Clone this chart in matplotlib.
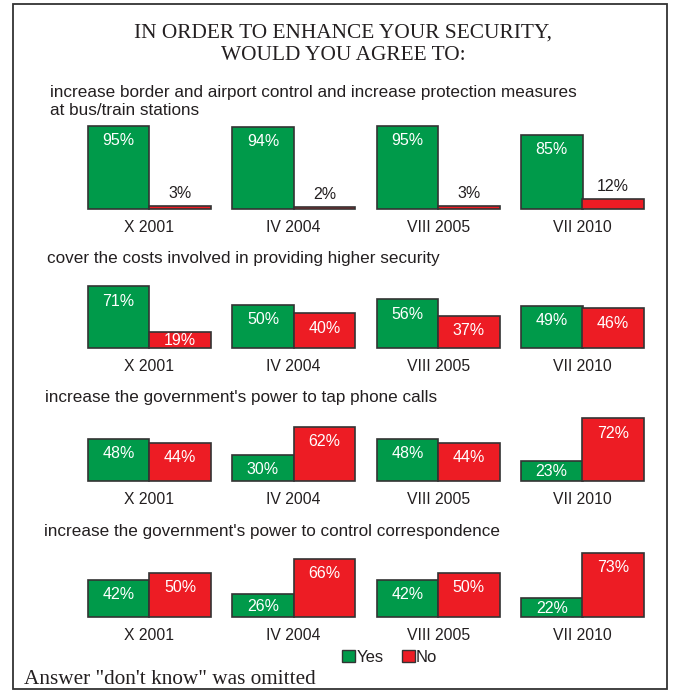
import matplotlib
matplotlib.use("Agg")
import matplotlib.pyplot as plt
from matplotlib.patches import Patch, Rectangle

# Survey waves
waves = ["X 2001", "IV 2004", "VIII 2005", "VII 2010"]

# Questions
questions = [
    "increase border and airport control and increase protection measures\nat bus/train stations",
    "cover the costs involved in providing higher security",
    "increase the government's power to tap phone calls",
    "increase the government's power to control correspondence",
]

# Share of answers (%)
yes_border = [95, 94, 95, 85]
no_border = [3, 2, 3, 12]
yes_costs = [71, 50, 56, 49]
no_costs = [19, 40, 37, 46]
yes_phone = [48, 30, 48, 23]
no_phone = [44, 62, 44, 72]
yes_mail = [42, 26, 42, 22]
no_mail = [50, 66, 50, 73]

panels = [
    (questions[0], yes_border, no_border),
    (questions[1], yes_costs, no_costs),
    (questions[2], yes_phone, no_phone),
    (questions[3], yes_mail, no_mail),
]

GREEN = "#009a4a"
RED = "#ed1c24"
EDGE = "#333333"
TEXT = "#231f20"
SANS = "Liberation Sans"
SERIF = "Liberation Serif"

W, H = 675, 690
fig = plt.figure(figsize=(W / 100, H / 100), dpi=100)
fig.patch.set_facecolor("white")


def fx(px):
    return px / W


def fy(py):
    return 1 - py / H


# outer frame
fig.patches.append(Rectangle((fx(13), fy(689)), fx(667) - fx(13), fy(4) - fy(689),
                             transform=fig.transFigure, fill=False,
                             edgecolor=EDGE, linewidth=1.3))

# two-line heading
for line, ly in (("IN ORDER TO ENHANCE YOUR SECURITY,", 37.5), ("WOULD YOU AGREE TO:", 60)):
    fig.text(fx(343), fy(ly), line, ha="center", va="baseline", fontsize=15.4,
             family=SERIF, color=TEXT)

# layout: baseline of each panel and subtitle position (pixels)
baselines = [209, 348.3, 481, 616.7]
subtitle_pos = [(50, 101.5), (47, 258), (45, 397), (44, 531.5)]
px_per_pct = 0.872
group_gap_px = 144.4
first_center_px = 149.3
bar_w = 61.5 / group_gap_px

x = list(range(len(waves)))
for (title, yes, no), base, (sx, sy) in zip(panels, baselines, subtitle_pos):
    top_px = base - 110
    ax = fig.add_axes([0, fy(base), 1, fy(top_px) - fy(base)])
    ax.set_xlim((0 - first_center_px) / group_gap_px, (W - first_center_px) / group_gap_px)
    ax.set_ylim(0, 110 / px_per_pct)
    ax.axis("off")
    xs_yes = [i - bar_w / 2 for i in x]
    xs_no = [i + bar_w / 2 for i in x]
    ax.bar(xs_yes, yes, width=bar_w, color=GREEN, edgecolor=EDGE, linewidth=1.2, clip_on=False)
    ax.bar(xs_no, no, width=bar_w, color=RED, edgecolor=EDGE, linewidth=1.2, clip_on=False)
    for xs, vals in ((xs_yes, yes), (xs_no, no)):
        for xi, v in zip(xs, vals):
            if v >= 15:
                ax.text(xi, max(v - 17, v * 0.45), f"{v}%", ha="center", va="center",
                        color="white", fontsize=11.5, family=SANS)
            else:
                ax.text(xi, v + 12.5 / px_per_pct, f"{v}%", ha="center", va="center",
                        color=TEXT, fontsize=11.5, family=SANS)
    for xi, lab in zip(x, waves):
        ax.text(xi, -18.4 / px_per_pct, lab, ha="center", va="center",
                color=TEXT, fontsize=11.3, family=SANS, clip_on=False)
    fig.text(fx(sx), fy(sy), title, ha="left", va="center", fontsize=12.3,
             family=SANS, color=TEXT, linespacing=1.3)

handles = [Patch(facecolor=GREEN, edgecolor=EDGE, linewidth=1.0, label="Yes"),
           Patch(facecolor=RED, edgecolor=EDGE, linewidth=1.0, label="No")]
fig.legend(handles=handles, loc="center left", bbox_to_anchor=(fx(342), fy(657)),
           ncol=2, frameon=False, borderpad=0, borderaxespad=0,
           handlelength=0.8, handleheight=0.75, handletextpad=0.05,
           columnspacing=1.1, prop={"family": SANS, "size": 12},
           labelcolor=TEXT)

fig.text(fx(24), fy(679), "Answer \"don't know\" was omitted", ha="left", va="center",
         fontsize=15.3, family=SERIF, color=TEXT)

fig.savefig("out.png", dpi=100)
